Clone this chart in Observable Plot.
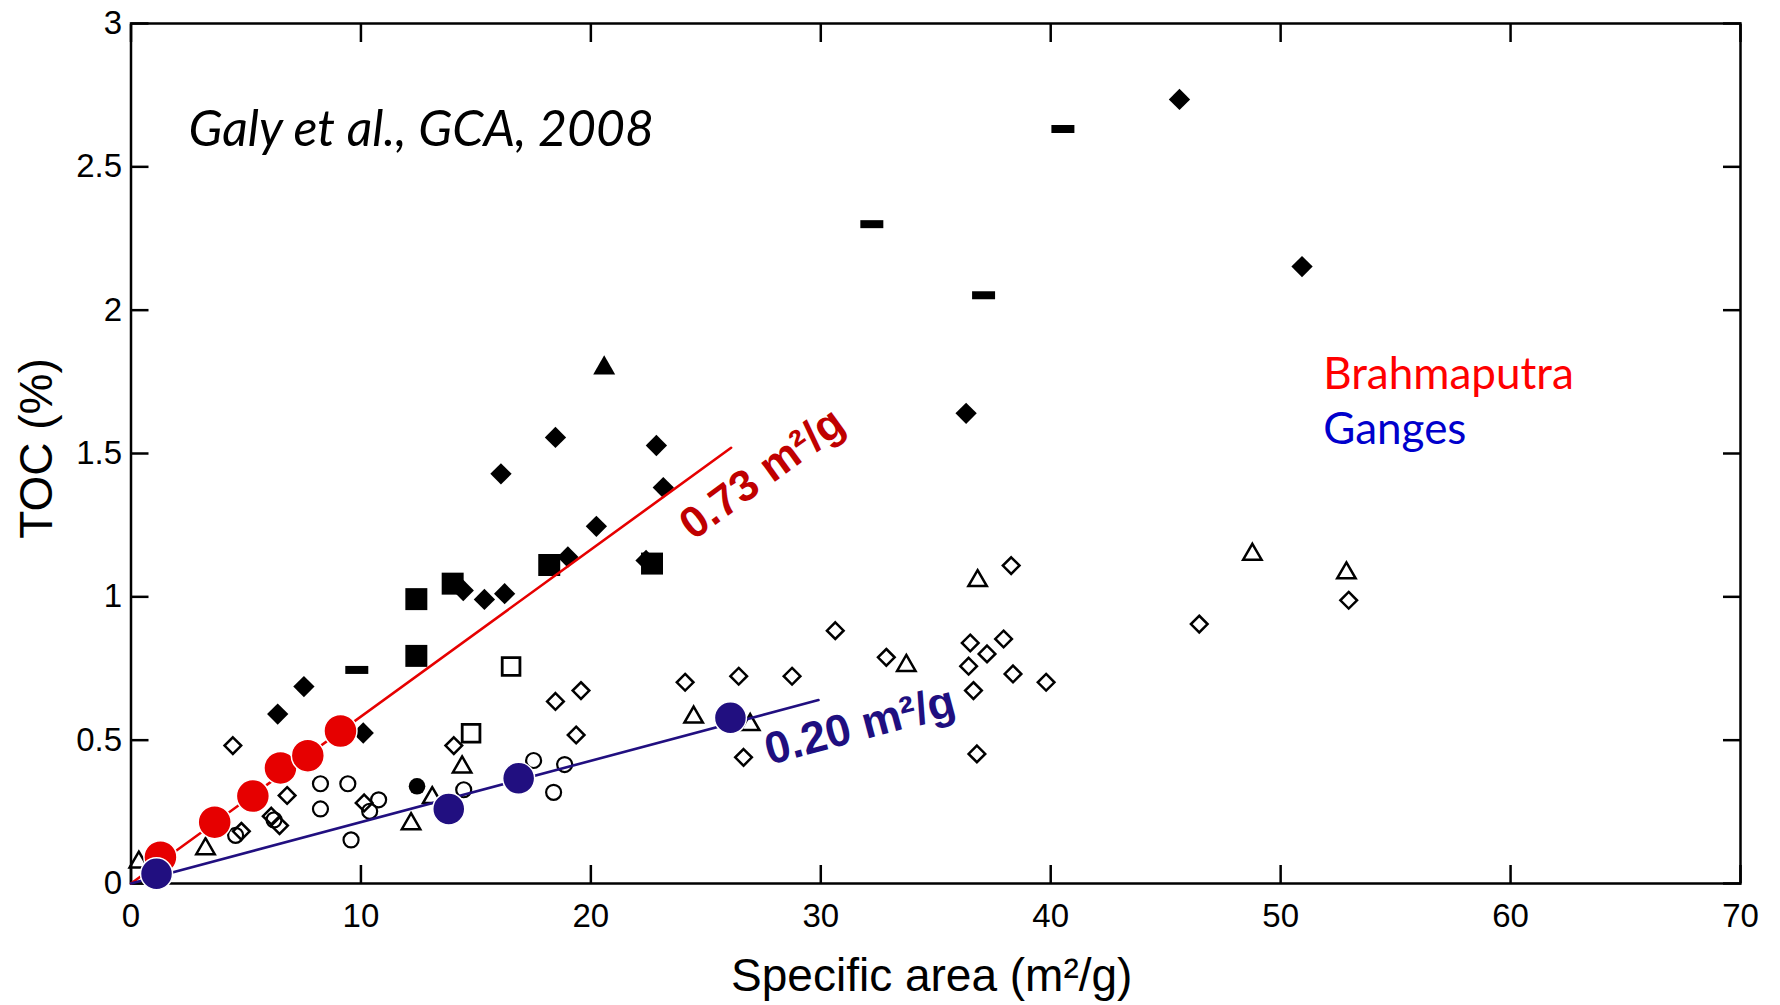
<!DOCTYPE html>
<html>
<head>
<meta charset="utf-8">
<script src="https://cdn.jsdelivr.net/npm/d3@7"></script>
<script src="https://cdn.jsdelivr.net/npm/@observablehq/plot@0.6"></script>
<style>
  html, body { margin: 0; padding: 0; background: #fff; }
  #chart { width: 1780px; height: 1005px; }
</style>
</head>
<body>
<div id="chart"></div>
<script>
// ---- data ----
const xTickValues = [0, 10, 20, 30, 40, 50, 60, 70];
const yTickValues = [0, 0.5, 1, 1.5, 2, 2.5, 3];

const filledDiamonds = [
  [45.6, 2.735], [50.93, 2.152], [36.32, 1.64], [18.46, 1.556], [16.09, 1.429],
  [22.85, 1.528], [23.15, 1.381], [20.24, 1.246], [19.0, 1.139], [22.4, 1.127],
  [14.45, 1.022], [15.37, 0.991], [16.25, 1.011], [6.38, 0.591], [7.52, 0.687],
  [10.1, 0.525]
];
const filledSquares = [[12.41, 0.992], [12.41, 0.794], [13.99, 1.046], [18.19, 1.111], [22.66, 1.116]];
const openSquares = [[16.53, 0.757], [14.79, 0.524]];
const dashes = [[9.82, 0.745], [32.22, 2.3], [37.08, 2.052], [40.53, 2.632]];
const filledTriangles = [[20.58, 1.798]];
const filledCircles = [[12.44, 0.339]];
const openDiamonds = [
  [4.43, 0.481], [6.79, 0.307], [6.46, 0.202], [4.8, 0.182], [6.1, 0.235],
  [10.14, 0.281], [14.04, 0.481], [18.46, 0.635], [19.57, 0.673], [19.36, 0.518],
  [24.1, 0.702], [26.43, 0.723], [28.75, 0.723], [30.63, 0.882], [32.85, 0.789],
  [26.64, 0.44], [36.5, 0.839], [37.23, 0.801], [36.43, 0.758], [36.64, 0.673],
  [36.79, 0.452], [38.28, 1.109], [37.95, 0.853], [38.36, 0.731], [39.8, 0.702],
  [46.46, 0.905], [52.96, 0.988]
];
const openCircles = [
  [8.24, 0.348], [9.43, 0.348], [8.24, 0.26], [9.57, 0.152], [10.77, 0.292],
  [10.38, 0.252], [14.47, 0.327], [17.51, 0.429], [18.86, 0.415], [18.38, 0.318],
  [4.55, 0.168], [6.22, 0.222]
];
const openTriangles = [
  [0.34, 0.074], [3.24, 0.121], [12.18, 0.208], [13.1, 0.299], [14.4, 0.406],
  [24.47, 0.58], [26.93, 0.554], [33.72, 0.76], [36.82, 1.056], [48.77, 1.148],
  [52.86, 1.083]
];
const brahmaputra = [[1.28, 0.092], [3.64, 0.214], [5.30, 0.305], [6.50, 0.403], [7.69, 0.446], [9.11, 0.532]];
const ganges = [[1.11, 0.034], [13.82, 0.26], [16.86, 0.367], [26.07, 0.578]];
const brahmaputraFit = [[0, 0], [26.1, 1.52]];
const gangesFit = [[0, 0], [29.9, 0.64]];

const slopeLabels = ["0.73 m²/g", "0.20 m²/g"];
const sourceNote = "Galy et al., GCA, 2008";
const legendNames = ["Brahmaputra", "Ganges"];
const xLabel = "Specific area (m²/g)";
const yLabel = "TOC (%)";

// ---- styling ----
const RED = "#e60000", NAVY = "#210f80";
const X = d => d[0], Y = d => d[1];
const dashSymbol = { draw(ctx) { ctx.rect(-11.5, -4, 23, 8); } };
const FONT = "'Liberation Sans', Arial, sans-serif";
const HUMANIST = "Lato, 'Open Sans', sans-serif";

const chart = Plot.plot({
  width: 1780,
  height: 1005,
  marginLeft: 130.5,
  marginRight: 40,
  marginTop: 23,
  marginBottom: 122,
  style: { fontFamily: FONT, background: "white", color: "black" },
  x: { domain: [0, 70] },
  y: { domain: [0, 3] },
  marks: [
    // axes: labels
    Plot.axisX({ anchor: "bottom", ticks: xTickValues, tickSize: 0, tickPadding: 20, fontSize: 33, label: null, tickFormat: d => String(d) }),
    Plot.axisY({ anchor: "left", ticks: yTickValues, tickSize: 0, tickPadding: 9, fontSize: 33, label: null, tickFormat: d => String(d) }),
    // inward ticks on all four sides
    Plot.axisX({ anchor: "bottom", ticks: xTickValues, tickSize: -18, fill: "none", label: null, strokeWidth: 2.5 }),
    Plot.axisX({ anchor: "top", ticks: xTickValues, tickSize: -18, fill: "none", label: null, strokeWidth: 2.5 }),
    Plot.axisY({ anchor: "left", ticks: yTickValues, tickSize: -18, fill: "none", label: null, strokeWidth: 2.5 }),
    Plot.axisY({ anchor: "right", ticks: yTickValues, tickSize: -18, fill: "none", label: null, strokeWidth: 2.5 }),
    Plot.frame({ stroke: "black", strokeWidth: 2.5 }),
    // axis titles
    Plot.text([xLabel], { text: d => d, frameAnchor: "bottom", lineAnchor: "middle", textAnchor: "middle", dy: 93, dx: -4, fontSize: 46, fontFamily: FONT }),
    Plot.text([yLabel], { text: d => d, frameAnchor: "left", textAnchor: "middle", lineAnchor: "middle", dx: -94, dy: -5, rotate: -90, fontSize: 46, fontFamily: FONT }),

    // open markers
    Plot.dot(openDiamonds, { x: X, y: Y, symbol: "diamond2", r: 7.5, fill: "none", stroke: "black", strokeWidth: 2.5 }),
    Plot.dot(openCircles, { x: X, y: Y, symbol: "circle", r: 7.5, fill: "none", stroke: "black", strokeWidth: 2.2 }),
    Plot.dot(openTriangles, { x: X, y: Y, symbol: "triangle2", r: 8.8, fill: "none", stroke: "black", strokeWidth: 2.5 }),
    Plot.dot(openSquares, { x: X, y: Y, symbol: "square", r: 10, fill: "none", stroke: "black", strokeWidth: 2.8 }),
    // filled markers
    Plot.dot(filledSquares, { x: X, y: Y, symbol: "square", r: 12.4, fill: "black", stroke: "none" }),
    Plot.dot(filledDiamonds, { x: X, y: Y, symbol: "diamond2", r: 9.6, fill: "black", stroke: "none" }),
    Plot.dot(filledTriangles, { x: X, y: Y, symbol: "triangle2", r: 10.5, fill: "black", stroke: "none" }),
    Plot.dot(filledCircles, { x: X, y: Y, symbol: "circle", r: 8.3, fill: "black", stroke: "none" }),
    Plot.dot(dashes, { x: X, y: Y, symbol: dashSymbol, r: 8, fill: "black", stroke: "none" }),

    // fit lines
    Plot.line(brahmaputraFit, { x: X, y: Y, stroke: RED, strokeWidth: 2.6 }),
    Plot.line(gangesFit, { x: X, y: Y, stroke: NAVY, strokeWidth: 2.6 }),
    // river samples
    Plot.dot(brahmaputra, { x: X, y: Y, r: 16.5, fill: RED, stroke: "white", strokeWidth: 1.5 }),
    Plot.dot(ganges, { x: X, y: Y, r: 16, fill: NAVY, stroke: "white", strokeWidth: 1.5 }),

    // slope labels
    Plot.text([slopeLabels[0]], { text: d => d, x: 27.45, y: 1.43, rotate: -36, fontSize: 44, fontWeight: "bold", fill: "#c00000", fontFamily: FONT }),
    Plot.text([slopeLabels[1]], { text: d => d, x: 31.7, y: 0.55, rotate: -15, fontSize: 45, fontWeight: "bold", fill: "#1f0f80", fontFamily: FONT }),

    // annotations
    Plot.text([sourceNote], { text: d => d, x: 2.5, y: 2.573, textAnchor: "start", lineAnchor: "bottom", fontSize: 50, fontStyle: "italic", fontFamily: HUMANIST, fill: "black" }),
    Plot.text([legendNames[0]], { text: d => d, x: 51.85, y: 1.726, textAnchor: "start", lineAnchor: "bottom", fontSize: 44, fontFamily: HUMANIST, fill: "#ff0000" }),
    Plot.text([legendNames[1]], { text: d => d, x: 51.85, y: 1.534, textAnchor: "start", lineAnchor: "bottom", fontSize: 44, fontFamily: HUMANIST, fill: "#0000cc" })
  ]
});
document.getElementById("chart").appendChild(chart);
</script>
</body>
</html>
